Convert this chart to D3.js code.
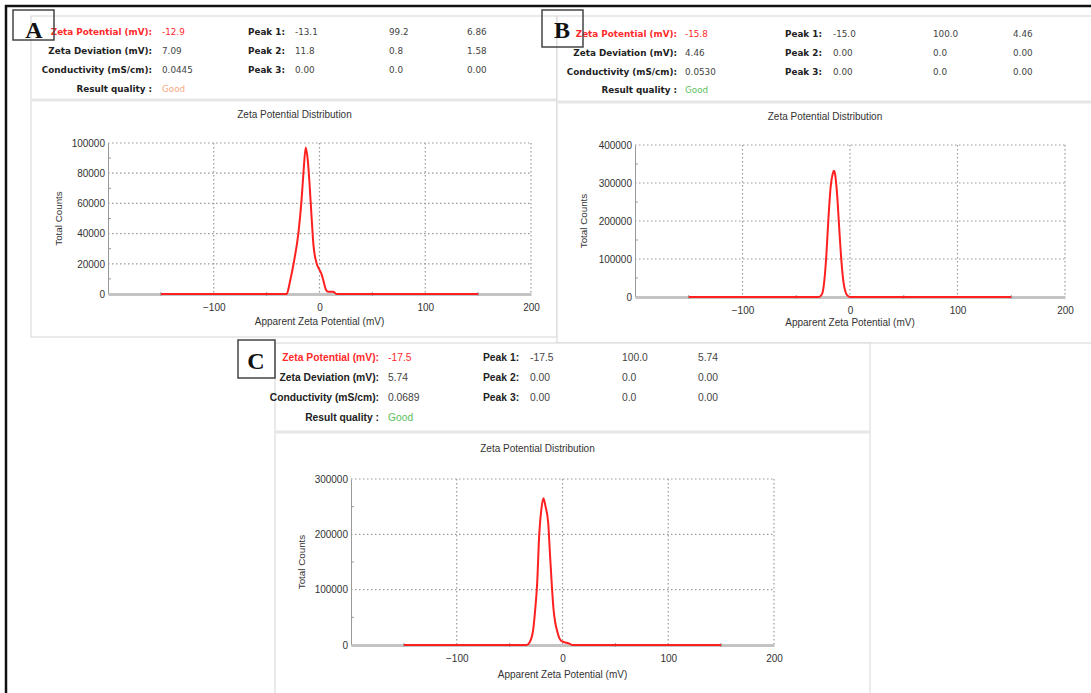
<!DOCTYPE html>
<html>
<head>
<meta charset="utf-8">
<script src="https://cdn.jsdelivr.net/npm/d3@7"></script>
<style>
  body { margin: 0; background: #fff; }
  svg { display: block; font-family: "Liberation Sans", Arial, sans-serif; }
</style>
</head>
<body>
<script>
// ---- data ----
const panelNames = ['A', 'B', 'C'];
const zetaPotential = ['-12.9', '-15.8', '-17.5'];
const zetaDeviation = ['7.09', '4.46', '5.74'];
const conductivity = ['0.0445', '0.0530', '0.0689'];
const resultQuality = ['Good', 'Good', 'Good'];
const peaksA = [['-13.1', '99.2', '6.86'], ['11.8', '0.8', '1.58'], ['0.00', '0.0', '0.00']];
const peaksB = [['-15.0', '100.0', '4.46'], ['0.00', '0.0', '0.00'], ['0.00', '0.0', '0.00']];
const peaksC = [['-17.5', '100.0', '5.74'], ['0.00', '0.0', '0.00'], ['0.00', '0.0', '0.00']];
const infoLabels = ['Zeta Potential (mV):', 'Zeta Deviation (mV):', 'Conductivity (mS/cm):', 'Result quality :'];
const peakLabels = ['Peak 1:', 'Peak 2:', 'Peak 3:'];

const xTicks = [-100, 0, 100, 200];
const xMinor = [-150, -50, 50, 150];
const yTicksA = [0, 20000, 40000, 60000, 80000, 100000];
const yTicksB = [0, 100000, 200000, 300000, 400000];
const yTicksC = [0, 100000, 200000, 300000];

// [apparent zeta potential (mV), total counts]
const curveA = [[-150, 0], [-31, 0], [-28, 8000], [-24, 22000], [-20, 40000], [-17, 62000], [-15, 82000],
  [-13, 97000], [-11, 88000], [-9.6, 75000], [-7.4, 50000], [-5.8, 33000], [-2.6, 20000], [0, 16000],
  [2, 13000], [4, 8000], [6, 3000], [8, 1500], [13, 1500], [16, 0], [150, 0]];
const curveB = [[-150, 0], [-29, 0], [-26, 8000], [-24, 40000], [-22, 110000], [-20, 210000], [-18, 290000],
  [-16, 325000], [-15, 332000], [-14, 325000], [-12, 270000], [-10, 180000], [-8, 95000], [-6, 38000],
  [-4, 12000], [-2, 3000], [0, 0], [150, 0]];
const curveC = [[-150, 0], [-34, 0], [-31, 5000], [-28, 24000], [-26, 60000], [-24, 110000], [-22, 200000],
  [-20, 245000], [-18, 265000], [-16, 250000], [-13.5, 220000], [-12, 170000], [-10, 105000], [-8.5, 65000],
  [-7, 42000], [-5, 25000], [-3, 12500], [0, 6000], [4, 4000], [7, 2000], [9.5, 0], [150, 0]];

const qualityColor = ['#f8a882', '#5cc05c', '#5cc05c'];

// ---- layout of the three screenshots ----
const layout = [
  { frame: [31, 16, 526, 321], sep: 100, box: [13, 10, 41, 30], letter: [34, 38],
    rows: [32, 51, 70, 89], labelX: 152, valX: 162, peakX: 248, peakCols: [295, 389, 467],
    font: '"DejaVu Sans", Verdana, sans-serif', fs: 8.8,
    plot: { l: 108, r: 531, t: 143, b: 294 }, titleY: 118, yLabX: 62, xLabY: 325,
    peaks: peaksA, curve: curveA, yTicks: yTicksA },
  { frame: [557, 16, 540, 327], sep: 102, box: [542, 10, 41, 37], letter: [562, 38],
    rows: [34, 53, 72, 90], labelX: 677, valX: 685, peakX: 785, peakCols: [833, 933, 1013],
    font: '"DejaVu Sans", Verdana, sans-serif', fs: 8.8,
    plot: { l: 635, r: 1065, t: 145, b: 297 }, titleY: 120, yLabX: 587, xLabY: 326,
    peaks: peaksB, curve: curveB, yTicks: yTicksB },
  { frame: [275, 343, 595, 360], sep: 432, box: [238, 340, 37, 38], letter: [256, 369],
    rows: [358, 378, 398, 418], labelX: 379, valX: 388, peakX: 483, peakCols: [530, 622, 698],
    font: '"Liberation Sans", Arial, sans-serif', fs: 10.3,
    plot: { l: 351, r: 774, t: 479, b: 645 }, titleY: 452, yLabX: 305, xLabY: 678,
    peaks: peaksC, curve: curveC, yTicks: yTicksC }
];

const svg = d3.select('body').append('svg')
  .attr('width', 1091)
  .attr('height', 693);

// outer frame (left and top edges only visible)
svg.append('line').attr('x1', 6).attr('y1', 5).attr('x2', 6).attr('y2', 693)
  .attr('stroke', '#111').attr('stroke-width', 2.5);
svg.append('line').attr('x1', 5).attr('y1', 6).attr('x2', 1091).attr('y2', 6)
  .attr('stroke', '#111').attr('stroke-width', 2.5);

function drawPanel(L, i) {
  const g = svg.append('g');
  const [fx, fy, fw, fh] = L.frame;

  g.append('rect')
    .attr('x', fx).attr('y', fy).attr('width', fw).attr('height', fh)
    .attr('fill', '#fff').attr('stroke', '#d6d6d6').attr('stroke-width', 1);
  g.append('line')
    .attr('x1', fx).attr('x2', fx + fw).attr('y1', L.sep).attr('y2', L.sep)
    .attr('stroke', '#e6e6e6').attr('stroke-width', 3);

  // info block
  const info = g.append('g').attr('font-family', L.font).attr('font-size', L.fs);
  const values = [zetaPotential[i], zetaDeviation[i], conductivity[i], resultQuality[i]];
  const valColors = ['#ff2a2a', '#444', '#444', qualityColor[i]];
  infoLabels.forEach((lab, r) => {
    info.append('text')
      .attr('x', L.labelX).attr('y', L.rows[r] + 3)
      .attr('text-anchor', 'end').attr('font-weight', 'bold')
      .attr('fill', r === 0 ? '#ff2a2a' : '#222')
      .text(lab);
    info.append('text')
      .attr('x', L.valX).attr('y', L.rows[r] + 3)
      .attr('fill', valColors[r])
      .text(values[r]);
  });
  peakLabels.forEach((lab, r) => {
    info.append('text')
      .attr('x', L.peakX).attr('y', L.rows[r] + 3)
      .attr('font-weight', 'bold').attr('fill', '#222')
      .text(lab);
    L.peaks[r].forEach((v, c) => {
      info.append('text')
        .attr('x', L.peakCols[c]).attr('y', L.rows[r] + 3)
        .attr('fill', '#444')
        .text(v);
    });
  });

  // chart
  const p = L.plot;
  const x = d3.scaleLinear().domain([-200, 200]).range([p.l, p.r]);
  const y = d3.scaleLinear().domain([0, d3.max(L.yTicks)]).range([p.b, p.t]);
  const yMinor = L.yTicks.slice(1).map((t, k) => (t + L.yTicks[k]) / 2);

  g.append('text')
    .attr('x', (p.l + p.r) / 2 - 25).attr('y', L.titleY)
    .attr('text-anchor', 'middle').attr('font-size', 10).attr('fill', '#333')
    .text('Zeta Potential Distribution');

  // dotted grid
  g.append('g').selectAll('line')
    .data(L.yTicks.slice(1))
    .join('line')
    .attr('x1', p.l).attr('x2', p.r)
    .attr('y1', d => y(d)).attr('y2', d => y(d))
    .attr('stroke', '#999').attr('stroke-width', 1.2).attr('stroke-dasharray', '1.5,2.5');
  g.append('g').selectAll('line')
    .data(xTicks)
    .join('line')
    .attr('x1', d => x(d)).attr('x2', d => x(d))
    .attr('y1', p.t).attr('y2', p.b)
    .attr('stroke', '#999').attr('stroke-width', 1.2).attr('stroke-dasharray', '1.5,2.5');

  // y axis
  const yAxis = g.append('g')
    .attr('transform', `translate(${p.l},0)`)
    .call(d3.axisLeft(y).tickValues(L.yTicks).tickFormat(d3.format('d')).tickSize(0).tickPadding(3));
  yAxis.select('.domain').attr('stroke', '#999');
  yAxis.selectAll('text').attr('font-size', 10).attr('fill', '#333');
  g.append('g').selectAll('line')
    .data(yMinor)
    .join('line')
    .attr('x1', p.l).attr('x2', p.l + 3)
    .attr('y1', d => y(d)).attr('y2', d => y(d))
    .attr('stroke', '#999');

  // x axis
  const xAxis = g.append('g')
    .attr('transform', `translate(0,${p.b})`)
    .call(d3.axisBottom(x).tickValues(xTicks).tickSize(0).tickSizeOuter(0).tickPadding(10));
  xAxis.select('.domain').attr('stroke', '#c4c4c4').attr('stroke-width', 3);
  xAxis.selectAll('text').attr('font-size', 10).attr('fill', '#333');
  g.append('g').selectAll('line')
    .data(xMinor)
    .join('line')
    .attr('x1', d => x(d)).attr('x2', d => x(d))
    .attr('y1', p.b - 2).attr('y2', p.b + 2)
    .attr('stroke', '#999');

  g.append('text')
    .attr('transform', `translate(${L.yLabX},${(p.t + p.b) / 2}) rotate(-90)`)
    .attr('text-anchor', 'middle').attr('font-size', 9.8).attr('fill', '#333')
    .text('Total Counts');
  g.append('text')
    .attr('x', x(0)).attr('y', L.xLabY)
    .attr('text-anchor', 'middle').attr('font-size', 10).attr('fill', '#333')
    .text('Apparent Zeta Potential (mV)');

  const line = d3.line()
    .x(d => x(d[0]))
    .y(d => y(d[1]))
    .curve(d3.curveMonotoneX);
  g.append('path')
    .datum(L.curve)
    .attr('d', line)
    .attr('fill', 'none')
    .attr('stroke', '#ff2020')
    .attr('stroke-width', 2)
    .attr('stroke-linejoin', 'round');

  // panel letter box
  const [bx, by, bw, bh] = L.box;
  g.append('rect')
    .attr('x', bx).attr('y', by).attr('width', bw).attr('height', bh)
    .attr('fill', 'none').attr('stroke', '#444').attr('stroke-width', 1.5);
  g.append('text')
    .attr('x', L.letter[0]).attr('y', L.letter[1])
    .attr('text-anchor', 'middle')
    .attr('font-family', '"Liberation Serif", "Times New Roman", serif')
    .attr('font-weight', 'bold').attr('font-size', 24).attr('fill', '#111')
    .text(panelNames[i]);
}

layout.forEach(drawPanel);
</script>
</body>
</html>
